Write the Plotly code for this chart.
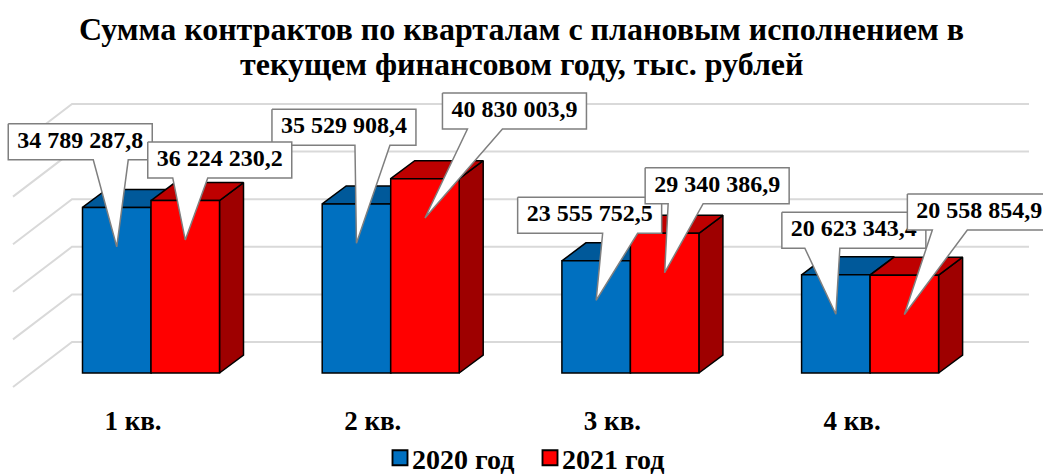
import plotly.graph_objects as go

# ---------- data ----------
categories = ["1 кв.", "2 кв.", "3 кв.", "4 кв."]
series_names = ["2020 год", "2021 год"]
values_2020 = [34789287.8, 35529908.4, 23555752.5, 20623343.4]
values_2021 = [36224230.2, 40830003.9, 29340386.9, 20558854.9]
title_lines = ["Сумма контрактов по кварталам с плановым исполнением в",
               "текущем финансовом году, тыс. рублей"]
grid_values = [0, 10000000, 20000000, 30000000, 40000000, 50000000]

# ---------- layout / projection constants (pixels) ----------
W, H = 1043, 475
PLOT_TOP, PLOT_BOTTOM = 90, 402
LEGEND_MID_PX = 458
ZERO_PX = 373.0          # pixel row of value 0 on the bar's front face
PX_PER_VALUE = 4.76e-6   # pixels per unit of value
PX_PER_CAT = 239.7       # pixels between categories
CAT0_PX = 151.0          # pixel column of the first category
BAR_W = 68.5
DEPTH_X, DEPTH_Y = 24.0, 18.0     # 3-D depth of bars
WALL_Y = 31.0                     # back wall, y lift relative to bars' front
WALL_LEFT, WALL_RIGHT = 72.0, 1029.0
FLOOR_DX, FLOOR_DY = 59.0, 45.0
TIP_DROP = 39.4
BOX_W, BOX_H, WEDGE_W = 144.0, 36.0, 35.0
# per-callout: box left and top relative to the tip, wedge start relative to the box
CALLOUTS_2020 = [(-108.5, -123, 85), (-84.5, -134, 83), (-78.5, -103, 85), (-54, -102, 23)]
CALLOUTS_2021 = [(-37.5, -98, 25), (17.5, -125, 25), (-19.5, -105, 23), (3, -120.5, 25)]

COL_BLUE, COL_BLUE_TOP, COL_BLUE_SIDE = "#0070C0", "#00599A", "#004E86"
COL_RED, COL_RED_TOP, COL_RED_SIDE = "#FF0000", "#BE0000", "#9E0000"
GRID = "#D9D9D9"
FONT = "Liberation Serif"

dx = lambda px: px / PX_PER_CAT       # pixel widths to x units
dy = lambda px: px / PX_PER_VALUE     # pixel heights to y units
x_range = [dx(0 - CAT0_PX), dx(W - CAT0_PX)]
y_range = [dy(ZERO_PX - PLOT_BOTTOM), dy(ZERO_PX - PLOT_TOP)]
frac_y = lambda px: (PLOT_BOTTOM - px) / (PLOT_BOTTOM - PLOT_TOP)


def fmt(v):
    whole, frac = f"{v:.1f}".split(".")
    return f"{int(whole):,}".replace(",", " ") + "," + frac


positions = list(range(len(categories)))
fig = go.Figure()


def poly(xs, ys, fill, line, width, axes=("x", "y")):
    fig.add_trace(go.Scatter(
        x=xs + xs[:1], y=ys + ys[:1], mode="lines", fill="toself", fillcolor=fill,
        line=dict(color=line, width=width), hoverinfo="skip", showlegend=False,
        xaxis=axes[0], yaxis=axes[1], cliponaxis=False))


# gridlines on the back wall plus the side-wall diagonals
for g in grid_values:
    wall_y = g + dy(WALL_Y)
    fig.add_trace(go.Scatter(
        x=[dx(WALL_LEFT - FLOOR_DX - CAT0_PX), dx(WALL_LEFT - CAT0_PX), dx(WALL_RIGHT - CAT0_PX)],
        y=[wall_y - dy(FLOOR_DY), wall_y, wall_y],
        mode="lines", line=dict(color=GRID, width=2), hoverinfo="skip", showlegend=False))

# top and side faces of the bars (computed from the values)
half = dx(BAR_W)
ddx, ddy = dx(DEPTH_X), dy(DEPTH_Y)
for vals, off, top_col, side_col in [(values_2020, -1, COL_BLUE_TOP, COL_BLUE_SIDE),
                                     (values_2021, 0, COL_RED_TOP, COL_RED_SIDE)]:
    for p, v in zip(positions, vals):
        x0 = p + off * half
        x1 = x0 + half
        poly([x1, x1 + ddx, x1 + ddx, x1], [0, ddy, v + ddy, v], side_col, "#000000", 1.5)
        poly([x0, x0 + ddx, x1 + ddx, x1], [v, v + ddy, v + ddy, v], top_col, "#000000", 1.5)

# real bars, front faces, on an overlay axis pair so that they sit above the faces
fig.add_trace(go.Bar(x=positions, y=values_2020, name=series_names[0],
                     marker=dict(color=COL_BLUE, line=dict(color="#000000", width=1.5)),
                     xaxis="x2", yaxis="y2", hoverinfo="skip"))
fig.add_trace(go.Bar(x=positions, y=values_2021, name=series_names[1],
                     marker=dict(color=COL_RED, line=dict(color="#000000", width=1.5)),
                     xaxis="x2", yaxis="y2", hoverinfo="skip"))

# callouts
for vals, off, boxes in [(values_2020, -0.5, CALLOUTS_2020), (values_2021, 0.5, CALLOUTS_2021)]:
    for p, v, (bl, bt, wl) in zip(positions, vals, boxes):
        tx = p + off * half
        ty = v - dy(TIP_DROP)
        xl, xr = tx + dx(bl), tx + dx(bl + BOX_W)
        yt, yb = ty - dy(bt), ty - dy(bt + BOX_H)
        w0, w1 = xl + dx(wl), xl + dx(wl + WEDGE_W)
        poly([xl, xr, xr, w1, tx, w0, xl], [yt, yt, yb, yb, ty, yb, yb],
             "#FFFFFF", "#7F7F7F", 1.5, axes=("x2", "y2"))
        fig.add_trace(go.Scatter(
            x=[(xl + xr) / 2], y=[(yt + yb) / 2], mode="text", text=[fmt(v)],
            textposition="middle center",
            textfont=dict(family=FONT, size=24, color="#000000", weight=700),
            hoverinfo="skip", showlegend=False, xaxis="x2", yaxis="y2", cliponaxis=False))

axis_common = dict(showgrid=False, zeroline=False, showline=False, fixedrange=True)
title_font = dict(family=FONT, size=32, color="#000000", weight=700)
fig.update_layout(
    width=W, height=H, autosize=False,
    margin=dict(l=0, r=0, t=PLOT_TOP, b=H - PLOT_BOTTOM, pad=0, autoexpand=False),
    paper_bgcolor="#FFFFFF", plot_bgcolor="#FFFFFF",
    barmode="group", bargap=1 - 2 * BAR_W / PX_PER_CAT, bargroupgap=0,
    title=dict(text=title_lines[0], x=0.5, xanchor="center", yref="container",
               y=1 - 29 / H, yanchor="middle", font=title_font),
    annotations=[dict(text=title_lines[1], xref="paper", yref="paper", x=0.5, xanchor="center",
                      y=frac_y(64), yanchor="middle",
                      showarrow=False, font=title_font)],
    xaxis=dict(range=x_range, tickmode="array",
               tickvals=[p - dx(18) for p in positions], ticktext=categories,
               tickfont=dict(family=FONT, size=27, color="#000000", weight=700),
               ticks="", **axis_common),
    yaxis=dict(range=y_range, showticklabels=False, ticks="", **axis_common),
    xaxis2=dict(range=x_range, overlaying="x", showticklabels=False, ticks="", **axis_common),
    yaxis2=dict(range=y_range, overlaying="y", showticklabels=False, ticks="", **axis_common),
    legend=dict(orientation="h", xref="container", yref="container",
                x=(412 - 40) / W, xanchor="left",
                y=1 - LEGEND_MID_PX / H, yanchor="middle",
                entrywidth=105, entrywidthmode="pixels",
                font=dict(family=FONT, size=28, color="#000000", weight=700),
                bgcolor="rgba(0,0,0,0)", itemclick=False, itemdoubleclick=False),
)

post = """
document.body.style.margin='0';
(function(){
  var gd=document.getElementById('{plot_id}');
  function tweak(){
    gd.querySelectorAll('.legend .legendpoints path, .legend .legendbar path').forEach(function(p){
      if(p.dataset.done){return;} p.dataset.done='1';
      var t=p.getAttribute('transform')||'';
      p.setAttribute('transform',t+' translate(8,0) scale(1.25)');
    });
  }
  tweak(); gd.on && gd.on('plotly_afterplot',tweak); setTimeout(tweak,50);
})();
"""
fig.write_html("out.html", post_script=post, config={"displayModeBar": False})
